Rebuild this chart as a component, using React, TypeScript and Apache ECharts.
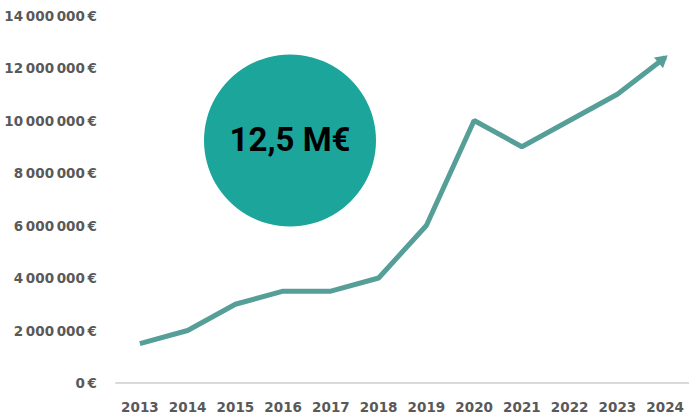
import React, { useEffect, useRef } from "react";
import * as echarts from "echarts";

const years = ["2013", "2014", "2015", "2016", "2017", "2018", "2019", "2020", "2021", "2022", "2023", "2024"];
const revenue = [1500000, 2000000, 3000000, 3500000, 3500000, 4000000, 6000000, 10000000, 9000000, 10000000, 11000000, 12400000];
const badgeText = "12,5 M€";

const fmt = (v: number) => {
  if (v === 0) return "0\u2009€";
  const s = String(Math.round(v));
  const parts: string[] = [];
  for (let i = s.length; i > 0; i -= 3) parts.unshift(s.slice(Math.max(0, i - 3), i));
  return parts.join("\u2009") + "\u2009€";
};

export default function App() {
  const ref = useRef<HTMLDivElement>(null);
  useEffect(() => {
    document.body.style.margin = "0";
    const chart = echarts.init(ref.current!, null, { renderer: "svg" });
    const last = revenue.length - 1;
    chart.setOption({
      animation: false,
      grid: { left: 116, top: 15.5, width: 578, height: 367.5 },
      xAxis: {
        type: "category",
        data: years,
        boundaryGap: true,
        axisLine: { show: true, lineStyle: { color: "#d9d9d9", width: 2 } },
        axisTick: { show: false },
        axisLabel: {
          interval: 0,
          color: "#595959",
          fontFamily: "DejaVu Sans",
          fontWeight: "bold",
          fontSize: 13.5,
          margin: 17,
        },
        splitLine: { show: false },
      },
      yAxis: {
        type: "value",
        min: 0,
        max: 14000000,
        interval: 2000000,
        axisLine: { show: false },
        axisTick: { show: false },
        splitLine: { show: false },
        axisLabel: {
          color: "#595959",
          fontFamily: "DejaVu Sans",
          fontWeight: "bold",
          fontSize: 13.5,
          margin: 19,
          formatter: (v: number) => fmt(v),
        },
      },
      series: [
        {
          type: "line",
          data: revenue.map((v, i) =>
            i === last
              ? {
                  value: v,
                  symbol: "triangle",
                  symbolSize: [14, 12],
                  symbolRotate: -50,
                  symbolOffset: [-2, 1.5],
                  itemStyle: { color: "#559f98" },
                }
              : { value: v, symbol: "none" }
          ),
          showSymbol: true,
          lineStyle: { color: "#559f98", width: 5 },
          itemStyle: { color: "#559f98" },
        },
      ],
      graphic: [
        {
          type: "circle",
          shape: { cx: 290, cy: 140.5, r: 86 },
          style: { fill: "#1ba59b" },
        },
        {
          type: "text",
          x: 290,
          y: 139,
          style: {
            text: badgeText,
            fill: "#000000",
            font: "bold 33px Roboto",
            align: "center",
            verticalAlign: "middle",
          },
        },
      ],
    });
    return () => chart.dispose();
  }, []);
  return <div ref={ref} style={{ width: 689, height: 415 }} />;
}
